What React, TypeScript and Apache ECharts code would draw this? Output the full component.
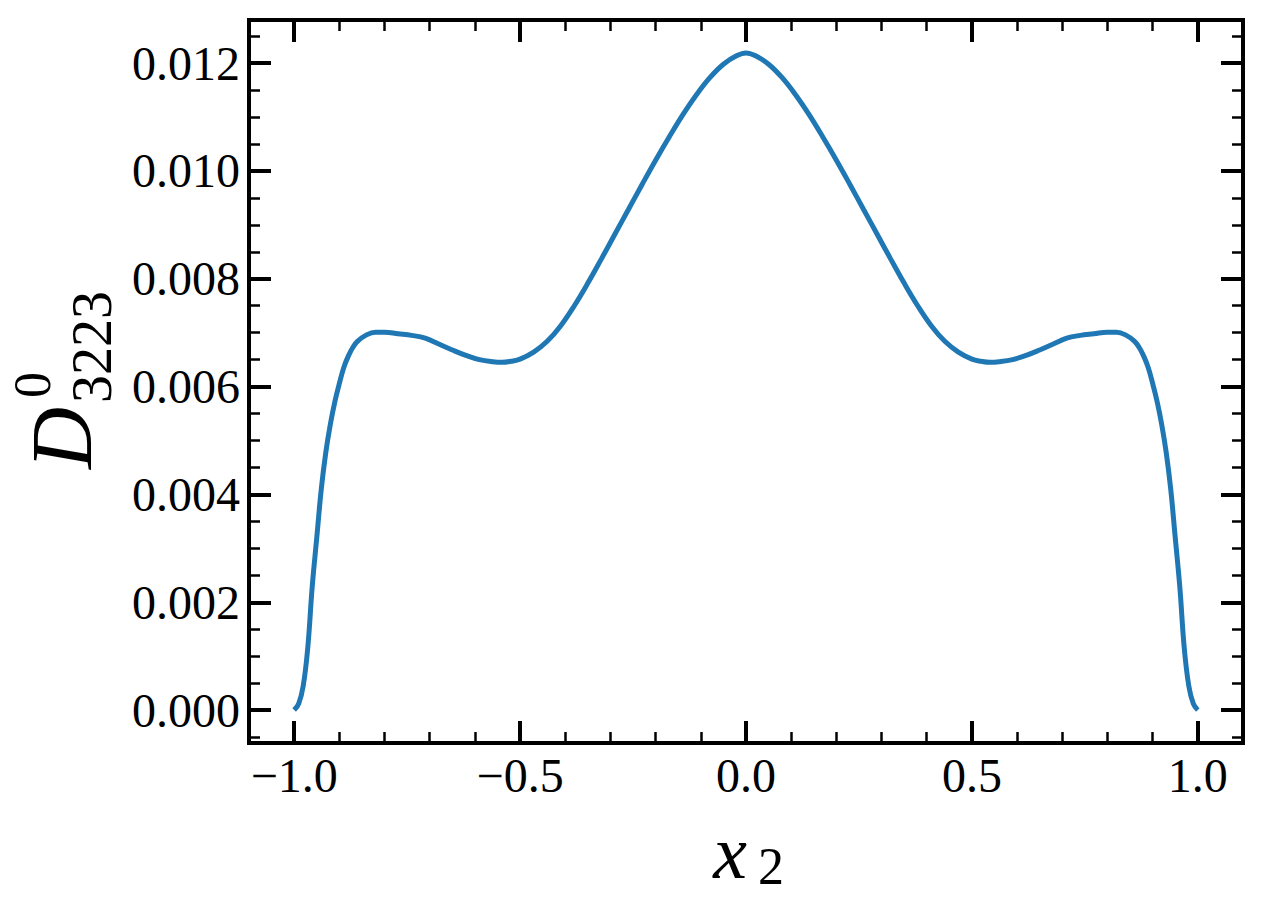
import React, { useEffect, useRef } from "react";
import * as echarts from "echarts";

const xValues = [
  -1.0, -0.99, -0.98, -0.97, -0.96, -0.95, -0.94, -0.93, -0.92, -0.91, -0.9, -0.89, -0.88, -0.87, -0.86,
  -0.84, -0.82, -0.8, -0.77, -0.74, -0.71, -0.68, -0.65, -0.62, -0.59, -0.56, -0.54, -0.52, -0.5, -0.47,
  -0.44, -0.41, -0.38, -0.35, -0.32, -0.29, -0.26, -0.23, -0.2, -0.17, -0.14, -0.11, -0.08, -0.05, -0.02,
  0.0,
  0.02, 0.05, 0.08, 0.11, 0.14, 0.17, 0.2, 0.23, 0.26, 0.29, 0.32, 0.35, 0.38, 0.41, 0.44, 0.47, 0.5,
  0.52, 0.54, 0.56, 0.59, 0.62, 0.65, 0.68, 0.71, 0.74, 0.77, 0.8, 0.82, 0.84, 0.86, 0.87, 0.88, 0.89,
  0.9, 0.91, 0.92, 0.93, 0.94, 0.95, 0.96, 0.97, 0.98, 0.99, 1.0,
];

const dValues = [
  0.0, 0.00012, 0.00045, 0.00115, 0.0023, 0.0032, 0.0041, 0.00478, 0.0053, 0.00572, 0.00606, 0.00636, 0.00657, 0.00673, 0.00684,
  0.00696, 0.00701, 0.00701, 0.00698, 0.00695, 0.0069, 0.00679, 0.00668, 0.00658, 0.0065, 0.00646, 0.00645, 0.00647, 0.00651, 0.00664,
  0.00684, 0.00713, 0.0075, 0.00792, 0.00837, 0.00883, 0.00929, 0.00975, 0.0102, 0.01063, 0.01104, 0.01141, 0.01173, 0.01198, 0.01214,
  0.01219,
  0.01214, 0.01198, 0.01173, 0.01141, 0.01104, 0.01063, 0.0102, 0.00975, 0.00929, 0.00883, 0.00837, 0.00792, 0.0075, 0.00713, 0.00684, 0.00664, 0.00651,
  0.00647, 0.00645, 0.00646, 0.0065, 0.00658, 0.00668, 0.00679, 0.0069, 0.00695, 0.00698, 0.00701, 0.00701, 0.00696, 0.00684, 0.00673, 0.00657, 0.00636,
  0.00606, 0.00572, 0.0053, 0.00478, 0.0041, 0.0032, 0.0023, 0.00115, 0.00045, 0.00012, 0.0,
];

const xMajorTicks = [-1.0, -0.5, 0.0, 0.5, 1.0];
const xMinorTicks = [-1.1, -0.9, -0.8, -0.7, -0.6, -0.4, -0.3, -0.2, -0.1, 0.1, 0.2, 0.3, 0.4, 0.6, 0.7, 0.8, 0.9, 1.1];
const yMajorTicks = [0.0, 0.002, 0.004, 0.006, 0.008, 0.01, 0.012];
const yMinorTicks = [
  -0.0005, 0.0005, 0.001, 0.0015, 0.0025, 0.003, 0.0035, 0.0045, 0.005, 0.0055, 0.0065, 0.007, 0.0075,
  0.0085, 0.009, 0.0095, 0.0105, 0.011, 0.0115, 0.0125,
];

const X_MIN = -1.1;
const X_MAX = 1.1;
const Y_MIN = -0.00061;
const Y_MAX = 0.0128;

const SERIF = "'Liberation Serif', 'Times New Roman', serif";

function fmtX(v: number) {
  const s = v.toFixed(1);
  return s.startsWith("-") ? "\u2212" + s.slice(1) : s;
}

function makeXAxis(position: "bottom" | "top", major: boolean) {
  return {
    type: "value",
    min: X_MIN,
    max: X_MAX,
    position,
    axisLine: { show: false, onZero: false },
    splitLine: { show: false },
    axisTick: {
      show: true,
      inside: true,
      length: major ? 22 : 11,
      lineStyle: { color: "#000", width: major ? 4 : 2.5 },
      customValues: major ? xMajorTicks : xMinorTicks,
    },
    axisLabel:
      major && position === "bottom"
        ? {
            show: true,
            customValues: xMajorTicks,
            formatter: (v: number) => fmtX(v),
            fontFamily: SERIF,
            fontSize: 48,
            color: "#000",
            margin: 8,
          }
        : { show: false },
  };
}

function makeYAxis(position: "left" | "right", major: boolean) {
  return {
    type: "value",
    min: Y_MIN,
    max: Y_MAX,
    position,
    axisLine: { show: false, onZero: false },
    splitLine: { show: false },
    axisTick: {
      show: true,
      inside: true,
      length: major ? 22 : 11,
      lineStyle: { color: "#000", width: major ? 4 : 2.5 },
      customValues: major ? yMajorTicks : yMinorTicks,
    },
    axisLabel:
      major && position === "left"
        ? {
            show: true,
            customValues: yMajorTicks,
            formatter: (v: number) => v.toFixed(3),
            fontFamily: SERIF,
            fontSize: 48,
            color: "#000",
            margin: 9,
          }
        : { show: false },
  };
}

export default function App() {
  const ref = useRef<HTMLDivElement>(null);

  useEffect(() => {
    if (!ref.current) return;
    const chart = echarts.init(ref.current, null, { renderer: "svg" });
    const seriesData = xValues.map((x, i) => [x, dValues[i]]);
    chart.setOption({
      animation: false,
      backgroundColor: "#fff",
      grid: {
        left: 249,
        top: 20,
        width: 994,
        height: 723,
        show: true,
        borderColor: "#000",
        borderWidth: 4,
        backgroundColor: "transparent",
        containLabel: false,
      },
      xAxis: [
        makeXAxis("bottom", true),
        makeXAxis("bottom", false),
        makeXAxis("top", true),
        makeXAxis("top", false),
      ],
      yAxis: [
        makeYAxis("left", true),
        makeYAxis("left", false),
        makeYAxis("right", true),
        makeYAxis("right", false),
      ],
      series: [
        {
          type: "line",
          xAxisIndex: 0,
          yAxisIndex: 0,
          data: seriesData,
          showSymbol: false,
          smooth: 0.4,
          lineStyle: { color: "#1f77b4", width: 5 },
          z: 5,
        },
      ],
      graphic: [
        {
          type: "text",
          x: 730,
          y: 852,
          style: {
            text: "x",
            x: 0,
            y: 0,
            align: "center",
            verticalAlign: "middle",
            font: `italic 76px ${SERIF}`,
            fill: "#000",
          },
        },
        {
          type: "text",
          x: 771,
          y: 866,
          style: {
            text: "2",
            x: 0,
            y: 0,
            align: "center",
            verticalAlign: "middle",
            font: `52px ${SERIF}`,
            fill: "#000",
          },
        },
        {
          type: "text",
          x: 62,
          y: 438,
          rotation: Math.PI / 2,
          style: {
            text: "D",
            x: 0,
            y: 0,
            align: "center",
            verticalAlign: "middle",
            font: `italic 86px ${SERIF}`,
            fill: "#000",
          },
        },
        {
          type: "text",
          x: 32,
          y: 385,
          rotation: Math.PI / 2,
          style: {
            text: "0",
            x: 0,
            y: 0,
            align: "center",
            verticalAlign: "middle",
            font: `52px ${SERIF}`,
            fill: "#000",
          },
        },
        {
          type: "text",
          x: 92,
          y: 347,
          rotation: Math.PI / 2,
          style: {
            text: "3223",
            x: 0,
            y: 0,
            align: "center",
            verticalAlign: "middle",
            font: `56px ${SERIF}`,
            fill: "#000",
          },
        },
      ],
    });
    return () => chart.dispose();
  }, []);

  return (
    <div
      ref={ref}
      style={{ position: "fixed", left: 0, top: 0, width: 1262, height: 908, background: "#fff" }}
    />
  );
}
